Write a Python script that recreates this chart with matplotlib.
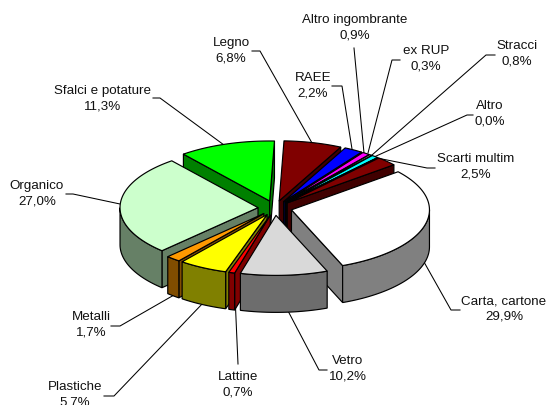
import numpy as np
import matplotlib
matplotlib.use("Agg")
import matplotlib.pyplot as plt
from matplotlib.patches import Polygon

# --- data -------------------------------------------------------------
names = ["Legno", "RAEE", "Altro ingombrante", "ex RUP", "Stracci", "Altro",
         "Scarti multim", "Carta, cartone", "Vetro", "Lattine", "Plastiche",
         "Metalli", "Organico", "Sfalci e potature"]
values = [6.8, 2.2, 0.9, 0.3, 0.8, 0.0, 2.5, 29.9, 10.2, 0.7, 5.7, 1.7, 27.0, 11.3]
top_colors = ["#800000", "#0000FF", "#FF00FF", "#C8C8C8", "#00FFFF", "#800000",
              "#800000", "#FFFFFF", "#D9D9D9", "#FF0000", "#FFFF00", "#FF9900",
              "#CCFFCC", "#00FF00"]

# --- layout (pixels) --------------------------------------------------
CX, CY = 275.0, 208.0
RX, RY = 138.0, 60.0
DEPTH = 37.0
EXPLODE = 17.0 / 138.0
START = np.deg2rad(2.0)
label_pos = [(231, 50.5), (313, 85.5), (355, 27.5), (426, 59), (517, 54),
             (490, 114), (476, 166.5), (504, 309), (348, 369), (238, 384.5),
             (75, 394.5), (91, 325), (37, 194), (103, 98.5)]
leaders = [
    [(252, 51), (260, 51), (312, 143)],
    [(332, 86), (342, 86), (352, 149)],
    [(354, 48), (364, 153)],
    [(400, 60), (392, 60), (368, 153)],
    [(495, 55), (486, 55), (372, 155)],
    [(473, 115), (467, 115), (374, 157)],
    [(435, 168), (427, 168), (377, 158)],
    [(460, 310), (451, 310), (424, 262)],
    [(327, 370), (319, 370), (287, 309)],
    [(238, 364), (235.5, 307)],
    [(104, 396), (114, 396), (204, 302)],
    [(111, 326), (120, 326), (174, 295)],
    [(153, 98), (160, 98), (224, 145)],
    [(66, 194), (73, 194), (120, 204)],
]

plt.rcParams["font.family"] = ["Liberation Sans", "DejaVu Sans"]
fig = plt.figure(figsize=(5.46, 4.05), dpi=100)
ax = fig.add_axes([0, 0, 1, 1])
ax.set_xlim(0, 546)
ax.set_ylim(405, 0)
ax.axis("off")

LW = 0.85
EDGE = "#000000"


def darker(hex_color):
    r, g, b = matplotlib.colors.to_rgb(hex_color)
    return (r * 0.5, g * 0.5, b * 0.5)


def rim(ang, ax0, ay0):
    return np.column_stack([ax0 + RX * np.sin(ang), ay0 - RY * np.cos(ang)])


total = sum(values)
edges = np.cumsum([0.0] + values) / total * 2 * np.pi + START
order = sorted(range(len(values)), key=lambda i: -np.cos((edges[i] + edges[i + 1]) / 2))

for rank, i in enumerate(order):
    a0, a1 = edges[i], edges[i + 1]
    mid = (a0 + a1) / 2
    ax0 = CX + EXPLODE * RX * np.sin(mid)
    ay0 = CY - EXPLODE * RY * np.cos(mid)
    z = 2 + rank
    side = darker(top_colors[i])
    apex = np.array([ax0, ay0])
    down = np.array([0, DEPTH])

    # cut faces that look towards the viewer
    if np.sin(a0) < 0:
        p = rim(np.array([a0]), ax0, ay0)[0]
        ax.add_patch(Polygon([apex, p, p + down, apex + down], fc=side, ec=EDGE, lw=LW, zorder=z))
    if np.sin(a1) > 0:
        p = rim(np.array([a1]), ax0, ay0)[0]
        ax.add_patch(Polygon([apex, p, p + down, apex + down], fc=side, ec=EDGE, lw=LW, zorder=z))

    # outer wall, front half only
    lo, hi = max(a0, np.pi / 2), min(a1, 3 * np.pi / 2)
    if hi > lo:
        t = np.linspace(lo, hi, 60)
        arc = rim(t, ax0, ay0)
        ax.add_patch(Polygon(np.vstack([arc, (arc + down)[::-1]]), fc=side, ec=EDGE, lw=LW, zorder=z))

    # top face
    t = np.linspace(a0, a1, 80)
    ax.add_patch(Polygon(np.vstack([apex, rim(t, ax0, ay0)]), fc=top_colors[i], ec=EDGE,
                         lw=LW, joinstyle="round", zorder=z))

for pts in leaders:
    xs, ys = zip(*pts)
    ax.plot(xs, ys, color="#000000", lw=0.75, zorder=1, solid_joinstyle="miter")

for n, v, (x, y) in zip(names, values, label_pos):
    ax.text(x, y, f"{n}\n{v:.1f}%".replace(".", ","), ha="center", va="center",
            fontsize=9.6, color="#111111", linespacing=1.42, zorder=50)

fig.savefig("out.png", dpi=100)
